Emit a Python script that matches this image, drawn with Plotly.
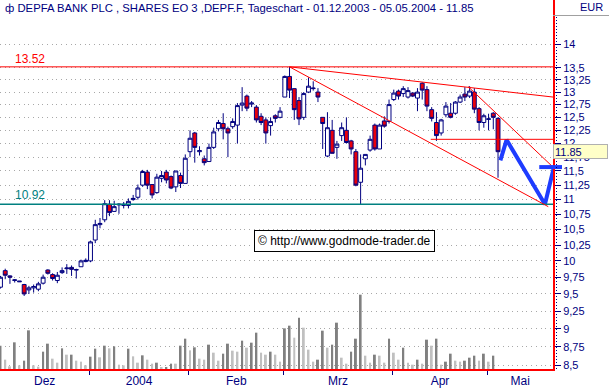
import numpy as np
import pandas as pd
import plotly.graph_objects as go

# ---------------- data ----------------
holidays = ["2003-12-24", "2003-12-25", "2003-12-26", "2003-12-31",
            "2004-01-01", "2004-04-09", "2004-04-12"]
dates = pd.bdate_range("2003-12-01", "2004-05-05")
dates = dates[~dates.isin(pd.to_datetime(holidays))]

open_ = [9.60, 9.85, 9.77, 9.70, 9.68, 9.64, 9.56, 9.59, 9.57, 9.66,
         9.86, 9.79, 9.70, 9.82, 9.88, 9.90, 9.86, 9.91, 9.99, 10.00,
         10.33, 10.58, 10.66, 10.92, 10.80, 10.91, 10.90, 10.90, 11.00, 11.04,
         11.25, 11.48, 11.26, 11.12, 11.37, 11.48, 11.40, 11.22, 11.42, 11.28,
         11.85, 12.20, 11.85, 11.72, 11.67, 11.93, 12.28, 12.38, 12.28, 12.32,
         12.35, 12.74, 12.92, 12.76, 12.70, 12.52, 12.45, 12.34, 12.53, 12.50,
         12.90, 13.32, 13.07, 12.83, 12.50, 13.00, 13.07, 13.00, 12.50, 11.77,
         12.25, 11.93, 12.15, 12.25, 12.05, 11.85, 11.30, 11.72, 11.88, 12.35,
         11.90, 12.43, 12.42, 12.85, 13.02, 12.97, 12.90, 12.98, 12.88, 13.18,
         13.05, 12.65, 12.40, 12.20, 12.55, 12.58, 12.58, 12.80, 12.96, 12.92,
         13.00, 12.67, 12.40, 12.46, 12.58, 12.48]
high = [9.77, 9.88, 9.78, 9.72, 9.69, 9.65, 9.62, 9.64, 9.68, 9.79,
        9.87, 9.81, 9.83, 9.90, 9.95, 9.93, 9.88, 10.02, 10.04, 10.32,
        10.66, 10.69, 10.99, 10.99, 10.98, 10.94, 10.96, 11.02, 11.08, 11.26,
        11.52, 11.52, 11.27, 11.45, 11.50, 11.52, 11.42, 11.50, 11.47, 11.80,
        12.25, 12.22, 11.95, 11.78, 12.00, 12.30, 12.45, 12.58, 12.32, 12.48,
        12.78, 13.10, 12.95, 12.82, 12.74, 12.58, 12.50, 12.50, 12.56, 12.70,
        13.34, 13.52, 13.07, 12.90, 13.00, 13.30, 13.22, 13.08, 12.50, 12.60,
        12.45, 12.05, 12.40, 12.50, 12.07, 11.90, 11.80, 11.80, 12.15, 12.38,
        12.38, 12.52, 12.85, 13.05, 13.05, 13.12, 13.10, 13.00, 13.08, 13.20,
        13.12, 12.70, 12.60, 12.47, 12.80, 12.78, 12.82, 12.95, 13.10, 13.12,
        13.08, 12.70, 12.57, 12.57, 12.60, 12.50]
low = [9.58, 9.72, 9.65, 9.67, 9.68, 9.47, 9.50, 9.52, 9.54, 9.64,
       9.79, 9.70, 9.66, 9.80, 9.80, 9.77, 9.73, 9.91, 9.98, 9.98,
       10.28, 10.52, 10.62, 10.72, 10.79, 10.76, 10.85, 10.85, 10.98, 11.00,
       11.22, 11.18, 11.02, 11.10, 11.30, 11.28, 11.18, 11.13, 11.20, 11.28,
       11.75, 11.65, 11.78, 11.60, 11.67, 11.90, 12.23, 12.08, 11.75, 12.28,
       12.00, 12.62, 12.62, 12.70, 12.40, 12.35, 12.00, 12.15, 12.40, 12.48,
       12.90, 12.88, 12.45, 12.35, 12.45, 12.98, 13.03, 12.80, 11.90, 11.75,
       11.82, 11.72, 12.05, 12.00, 11.80, 11.23, 10.92, 11.60, 11.85, 11.87,
       11.90, 12.30, 12.38, 12.82, 12.85, 12.90, 12.87, 12.90, 12.62, 12.85,
       12.62, 12.42, 12.05, 12.15, 12.50, 12.48, 12.55, 12.78, 12.82, 12.88,
       12.58, 12.25, 12.30, 12.25, 12.27, 11.38]
close = [9.75, 9.78, 9.75, 9.71, 9.69, 9.50, 9.59, 9.61, 9.65, 9.75,
         9.81, 9.73, 9.78, 9.85, 9.89, 9.87, 9.865, 10.00, 10.01, 10.30,
         10.58, 10.60, 10.93, 10.78, 10.88, 10.92, 10.92, 10.97, 11.02, 11.20,
         11.49, 11.25, 11.08, 11.39, 11.42, 11.34, 11.20, 11.50, 11.28, 11.73,
         12.10, 11.93, 11.87, 11.65, 11.93, 12.22, 12.40, 12.28, 12.20, 12.42,
         12.73, 12.78, 12.68, 12.78, 12.45, 12.40, 12.20, 12.42, 12.48, 12.62,
         13.32, 13.04, 12.65, 12.47, 12.97, 13.12, 13.08, 12.90, 12.38, 12.30,
         11.82, 11.99, 12.30, 12.02, 11.90, 11.25, 11.55, 11.80, 12.08, 11.90,
         12.35, 12.33, 12.75, 12.98, 12.92, 13.07, 13.03, 12.92, 13.00, 13.04,
         12.72, 12.48, 12.15, 12.45, 12.72, 12.50, 12.80, 12.90, 12.90, 13.02,
         12.66, 12.40, 12.53, 12.47, 12.50, 11.85]
volume = [70, 28, 8, 80, 11, 25, 116, 11, 7, 52,
          76, 31, 19, 62, 43, 43, 25, 22, 11, 37,
          61, 35, 70, 62, 68, 13, 11, 61, 38, 19,
          41, 28, 16, 19, 5, 4, 16, 16, 70, 91,
          56, 65, 31, 28, 73, 49, 25, 46, 76, 55,
          52, 85, 64, 79, 109, 49, 43, 52, 43, 22,
          122, 130, 94, 154, 124, 58, 22, 28, 115, 64,
          73, 139, 34, 16, 52, 91, 223, 40, 19, 43,
          40, 19, 91, 49, 28, 64, 19, 13, 28, 16,
          88, 70, 91, 13, 22, 46, 25, 22, 25, 34,
          40, 25, 46, 22, 40]
volume_shade = ["d", "l", "l", "d", "l", "d", "d", "l", "l", "d",
                "d", "l", "l", "d", "l", "d", "l", "l", "l", "d",
                "d", "l", "d", "l", "d", "l", "l", "d", "l", "l",
                "d", "l", "l", "d", "l", "d", "d", "l", "d", "d",
                "l", "d", "l", "l", "d", "l", "l", "d", "d", "l",
                "l", "d", "l", "d", "d", "l", "l", "d", "l", "l",
                "d", "d", "l", "d", "l", "l", "l", "d", "d", "l",
                "d", "d", "l", "l", "d", "d", "d", "l", "l", "d",
                "l", "l", "d", "l", "l", "d", "l", "l", "d", "l",
                "d", "l", "d", "l", "d", "d", "l", "l", "d", "d",
                "d", "l", "d", "l", "d"]

month_labels = ["Dez", "2004", "Feb", "Mrz", "Apr", "Mai"]
ytick_vals = [14, 13.5, 13.25, 13, 12.75, 12.5, 12.25, 12, 11.75, 11.5, 11.25,
              11, 10.75, 10.5, 10.25, 10, 9.75, 9.5, 9.25, 9, 8.75, 8.5]
ytick_text = ["14", "13,5", "13,25", "13", "12,75", "12,5", "12,25", "12", "11,75",
              "11,5", "11,25", "11", "10,75", "10,5", "10,25", "10", "9,75", "9,5",
              "9,25", "9", "8,75", "8,5"]

resistance = 13.52
support = 10.92
last_price = 11.85
neck_level = 12.08
upper_trend = ([61, 116.6], [13.52, 12.90])
lower_trend = ([61, 115.6], [13.52, 10.88])
short_trend = ([98.7, 116.6], [13.11, 11.57])
projection_x = [105.5, 106.8, 114.9, 116.8]
projection_y = [11.69, 12.07, 10.92, 11.57]
projection_bar = ([113.7, 118.5], 11.57)

title_text = "ф DEPFA BANK PLC , SHARES EO 3 ,DEPF.F, Tageschart - 01.12.2003 - 05.05.2004 - 11.85"

# ---------------- geometry / style ----------------
W, H = 609, 392
ML, MR, MT, MB = 0, 56, 0, 23
PW, PH = W - ML - MR, H - MT - MB
X_MIN, X_MAX = -0.1, 116.6
Y_LO, Y_HI = 8.454, 15.0
NAVY = "#000080"
RED = "#ff0000"
TEAL = "#008080"
BLUE = "#1e3cff"
FONT = "Liberation Sans"


def xpaper(v):
    return (v - X_MIN) / (X_MAX - X_MIN)


idx = np.arange(len(dates))
vol_x = idx[:len(volume)]
vol_colors = ["#808080" if c == "d" else "#c0c0c0" for c in volume_shade]

# month boundaries and label positions
months = dates.to_period("M")
starts = [i for i in range(len(dates)) if i == 0 or months[i] != months[i - 1]]
bounds = [s - 0.25 for s in starts]
ends = bounds[1:] + [X_MAX]
label_pos = [(max(a, X_MIN) + b) / 2 for a, b in zip(bounds, ends)]

fig = go.Figure()

fig.add_trace(go.Bar(x=vol_x, y=volume, marker=dict(color=vol_colors, line=dict(width=0)),
                     width=0.42, yaxis="y2", hoverinfo="skip"))

fig.add_trace(go.Candlestick(
    x=idx, open=open_, high=high, low=low, close=close,
    increasing=dict(line=dict(color=NAVY, width=1), fillcolor="white"),
    decreasing=dict(line=dict(color=NAVY, width=1), fillcolor="#e8000b"),
    whiskerwidth=0, hoverinfo="skip"))

fig.add_trace(go.Scatter(x=projection_x, y=projection_y, mode="lines",
                         line=dict(color=BLUE, width=4), hoverinfo="skip"))

shapes = []
shapes.append(dict(type="line", xref="paper", yref="y", x0=0, x1=1, y0=resistance, y1=resistance,
                   line=dict(color=RED, width=1)))
shapes.append(dict(type="line", xref="paper", yref="y", x0=0, x1=1, y0=support, y1=support,
                   line=dict(color=TEAL, width=1.5)))
shapes.append(dict(type="line", xref="x", yref="y", x0=90.8, x1=X_MAX, y0=neck_level, y1=neck_level,
                   line=dict(color=RED, width=1)))
for tx, ty in (upper_trend, lower_trend, short_trend):
    shapes.append(dict(type="line", xref="x", yref="y", x0=tx[0], x1=tx[1], y0=ty[0], y1=ty[1],
                       line=dict(color=RED, width=1)))
# blue target bar (runs slightly past the plot edge)
shapes.append(dict(type="line", xref="paper", yref="y",
                   x0=xpaper(projection_bar[0][0]), x1=xpaper(projection_bar[0][1]),
                   y0=projection_bar[1], y1=projection_bar[1],
                   line=dict(color=BLUE, width=4)))
# dotted right axis rule
shapes.append(dict(type="line", xref="paper", yref="paper", x0=(556.5 - ML) / PW, x1=(556.5 - ML) / PW,
                   y0=0, y1=1 - 17 / PH, line=dict(color=NAVY, width=1, dash="1px,2px")))
# EUR box rule
shapes.append(dict(type="line", xref="paper", yref="paper", x0=1, x1=(W - ML) / PW,
                   y0=1 - 15.5 / PH, y1=1 - 15.5 / PH, line=dict(color="#a0a0a0", width=1)))

annotations = []
annotations.append(dict(text=title_text, xref="paper", yref="paper", x=3 / PW, y=1 - 8 / PH,
                        xanchor="left", yanchor="middle", showarrow=False,
                        font=dict(family=FONT, size=11.3, color=NAVY), bgcolor="white"))
annotations.append(dict(text="EUR", xref="paper", yref="paper", x=(605 - ML) / PW, y=1 - 7.5 / PH,
                        xanchor="right", yanchor="middle", showarrow=False,
                        font=dict(family=FONT, size=11, color=NAVY)))
annotations.append(dict(text=f"{resistance:.2f}", xref="paper", yref="y", x=13 / PW,
                        y=np.log10(resistance), xanchor="left", yanchor="bottom", yshift=-1,
                        showarrow=False, font=dict(family=FONT, size=12, color=RED)))
annotations.append(dict(text=f"{support:.2f}", xref="paper", yref="y", x=13 / PW,
                        y=np.log10(support), xanchor="left", yanchor="bottom", yshift=0,
                        showarrow=False, font=dict(family=FONT, size=12, color=TEAL)))
annotations.append(dict(text=f"{last_price:.2f}", xref="paper", yref="y", x=(553 - ML) / PW,
                        y=np.log10(last_price), xanchor="left", yanchor="middle", align="left",
                        width=51, height=11, borderpad=1, showarrow=False,
                        bgcolor="#ffffc8", bordercolor="#b0b0b0", borderwidth=1,
                        font=dict(family=FONT, size=11, color=NAVY)))
annotations.append(dict(text="© http://www.godmode-trader.de", xref="paper", yref="paper",
                        x=(345 - ML) / PW, y=1 - 240.5 / PH, xanchor="center", yanchor="middle",
                        showarrow=False, bgcolor="white", bordercolor="black", borderwidth=1,
                        borderpad=3, font=dict(family=FONT, size=12, color="black")))

fig.update_layout(
    width=W, height=H, margin=dict(l=ML, r=MR, t=MT, b=MB),
    paper_bgcolor="white", plot_bgcolor="white", showlegend=False,
    boxgap=0.18, boxgroupgap=0,
    shapes=shapes, annotations=annotations,
    xaxis=dict(range=[X_MIN, X_MAX], rangeslider=dict(visible=False),
               showgrid=False, zeroline=False, showline=True, linecolor=RED, linewidth=2,
               tickmode="array", tickvals=label_pos, ticktext=month_labels, ticks="",
               tickfont=dict(family=FONT, size=12, color=NAVY),
               minor=dict(tickmode="array", tickvals=bounds, ticks="outside", ticklen=4,
                          tickcolor=NAVY, tickwidth=1, showgrid=False)),
    yaxis=dict(type="log", range=[np.log10(Y_LO), np.log10(Y_HI)], side="right",
               showline=True, linecolor=RED, linewidth=2, zeroline=False,
               tickmode="array", tickvals=ytick_vals, ticktext=ytick_text,
               ticks="outside", ticklen=6, tickcolor=NAVY, tickwidth=1,
               tickfont=dict(family=FONT, size=11, color=NAVY),
               showgrid=True, gridcolor="#a8a8a8", griddash="1px,3.7px", gridwidth=1),
    yaxis2=dict(overlaying="y", range=[0, PH * 3], visible=False, fixedrange=True),
)

fig.write_html("out.html", config={"displayModeBar": False},
               post_script="document.body.style.margin='0';document.body.style.padding='0';")
